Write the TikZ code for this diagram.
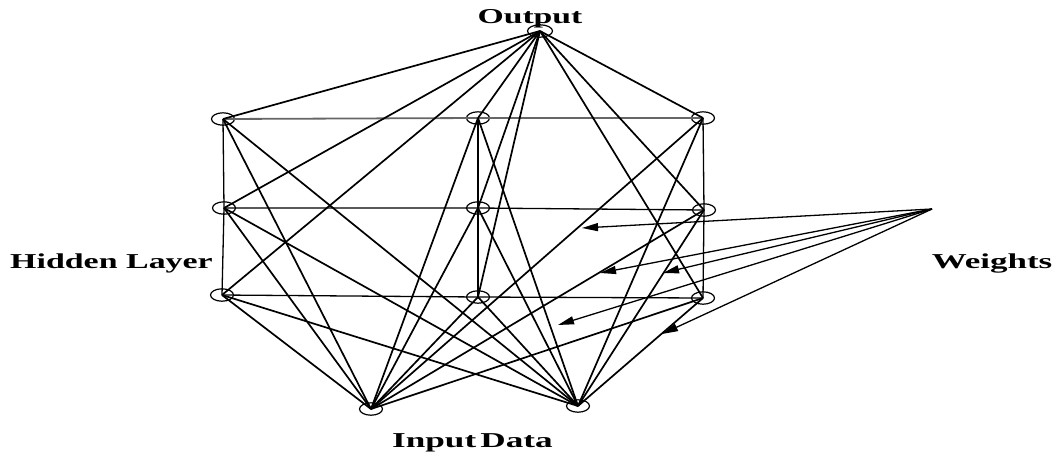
\documentclass[tikz,border=0pt]{standalone}
\usepackage{fontspec}
\setmainfont{Liberation Serif}
\usetikzlibrary{shapes.geometric,arrows.meta}
\begin{document}
\begin{tikzpicture}[x=0.5pt,y=-0.5pt,
  neuron/.style={ellipse,draw,line width=0.6pt,minimum width=11.5pt,minimum height=6.2pt,inner sep=0pt},
  conn/.style={line width=0.85pt},
  gridline/.style={line width=0.65pt},
  weight/.style={line width=0.65pt,-{Triangle[length=8pt,width=4pt]}},
  lbl/.style={font=\fontsize{10.6}{12}\selectfont\bfseries,inner sep=0pt,anchor=base}]
\useasboundingbox (0,0) rectangle (1058,455);

% neurons
\node[neuron,minimum width=12.5pt] (o) at (540,31) {};
\node[neuron] (h11) at (223,119) {};
\node[neuron] (h12) at (478,118) {};
\node[neuron] (h13) at (703,118) {};
\node[neuron] (h21) at (224,208) {};
\node[neuron] (h22) at (478,208) {};
\node[neuron] (h23) at (704,210) {};
\node[neuron] (h31) at (222,295) {};
\node[neuron] (h32) at (478,297) {};
\node[neuron] (h33) at (703,298) {};
\node[neuron] (i1) at (371,409) {};
\node[neuron] (i2) at (578,406) {};

% grid
\draw[gridline,draw=black!60,line width=0.9pt] (h11.center) -- (h12.center) -- (h13.center);
\draw[gridline] (h21.center) -- (h22.center) -- (h23.center);
\draw[gridline] (h31.center) -- (h32.center) -- (h33.center);
\draw[gridline] (h11.center) -- (h21.center) -- (h31.center);
\draw[gridline] (h12.center) -- (h22.center) -- (h32.center);
\draw[gridline] (h13.center) -- (h23.center) -- (h33.center);

% connections
\foreach \h in {h11,h12,h13,h21,h22,h23,h31,h32,h33}{
  \draw[conn] (o.center) -- (\h.center);
  \draw[conn] (i1.center) -- (\h.center);
  \draw[conn] (i2.center) -- (\h.center);
}

% weights pointers
\coordinate (w) at (932,209);
\coordinate (t1) at (582,228);
\coordinate (t2) at (600,273);
\coordinate (t3) at (663,273);
\coordinate (t4) at (558,325);
\coordinate (t5) at (662,334);
\foreach \t in {t1,t2,t3,t4,t5}{
  \draw[weight] (w) -- (\t);
}

% labels
\node[lbl] (lo) at (530,23) {\scalebox{1.59}[1]{Output}};
\node[lbl] (lh) at (111.5,268) {\scalebox{1.6}[1]{Hidden Layer}};
\node[lbl] (lw) at (992,268) {\scalebox{1.65}[1]{Weights}};
\node[lbl] (li) at (472.5,447) {\scalebox{1.66}[1]{Input\hspace{0.12em}Data}};
\end{tikzpicture}
\end{document}
